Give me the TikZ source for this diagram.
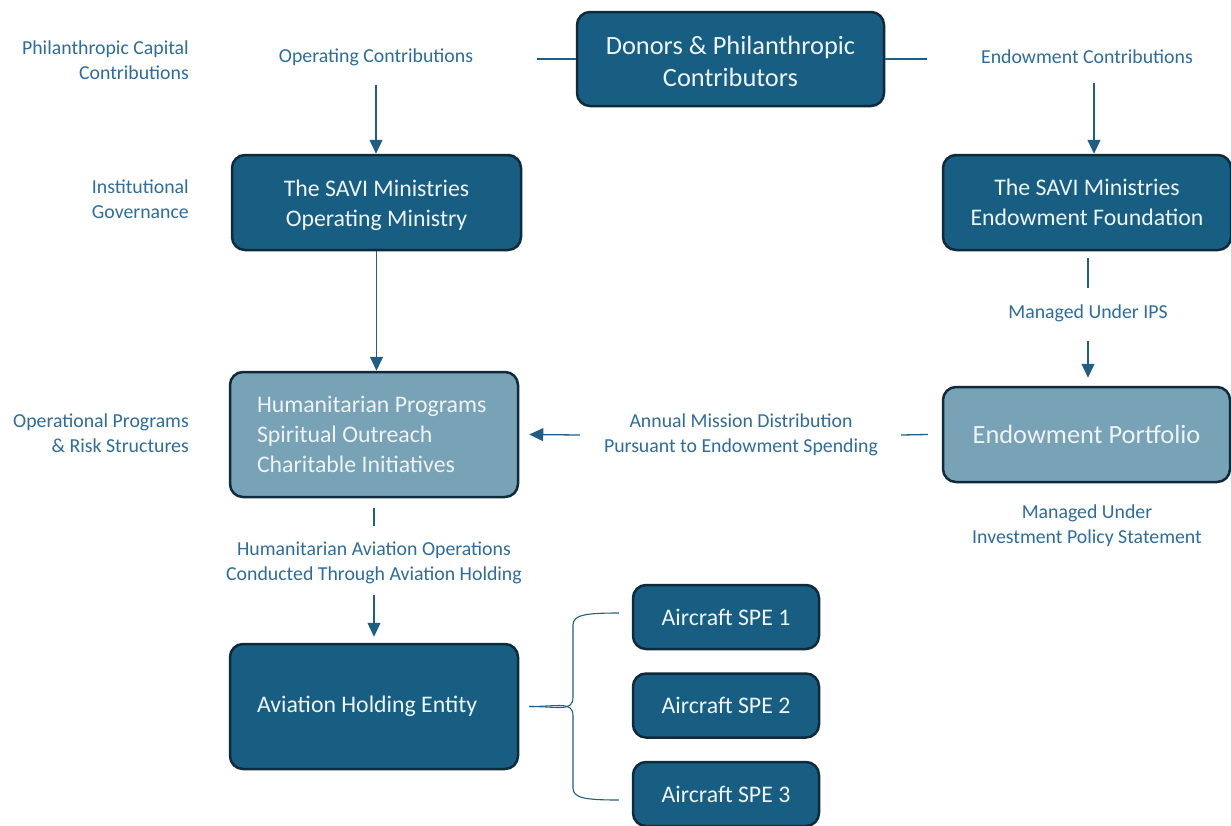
\documentclass[tikz,border=0pt]{standalone}
\usepackage{fontspec}
\setmainfont{Carlito}
\usetikzlibrary{arrows.meta}
\definecolor{darkfill}{HTML}{175E82}
\definecolor{lightfill}{HTML}{78A2B5}
\definecolor{edgecol}{HTML}{0F2B3B}
\definecolor{labcol}{HTML}{2D6C9C}
\definecolor{conncol}{HTML}{1F5F85}
\definecolor{boxtext}{HTML}{EEF3F6}
\begin{document}
\begin{tikzpicture}[x=1pt,y=-1pt,
 darkbox/.style={draw=edgecol, line width=2.5pt, fill=darkfill, rounded corners=13pt, text=boxtext, align=center, inner sep=0pt},
 lightbox/.style={darkbox, fill=lightfill},
 lbl/.style={text=labcol, font=\fontsize{19.8}{25}\selectfont, align=center, inner sep=0pt},
 side/.style={lbl, align=flush right, anchor=east},
 conn/.style={draw=conncol, line width=1.3pt},
 arr/.style={conn, -{Triangle[width=13pt,length=14pt]}},
 bigtxt/.style={font=\fontsize{26.4}{32}\selectfont},
 midtxt/.style={font=\fontsize{23.8}{30}\selectfont}]
\useasboundingbox (0,0) rectangle (1231,825);

\node[darkbox,bigtxt,minimum width=307pt,minimum height=94pt] (donors) at (730.5,59) {\rule{0pt}{23pt}Donors \& Philanthropic\\Contributors};
\node[lbl] (opc) at (376,57) {Operating Contributions};
\node[lbl] (enc) at (1087,57) {Endowment Contributions};
\node[darkbox,midtxt,minimum width=289pt,minimum height=95pt] (opmin) at (376.5,202.5) {\rule{0pt}{23pt}The SAVI Ministries\\Operating Ministry};
\node[darkbox,midtxt,minimum width=288pt,minimum height=95pt] (endf) at (1087,202.5) {The SAVI Ministries\\Endowment Foundation};
\node[lbl] (ips) at (1088,313) {Managed Under IPS};
\node[lightbox,bigtxt,minimum width=287pt,minimum height=95pt] (port) at (1086.5,434.5) {Endowment Portfolio};
\node[lbl] (ipsst) at (1087,526) {Managed Under\\Investment Policy Statement};
\node[lightbox,midtxt,minimum width=288pt,minimum height=125pt,align=flush left,text width=234pt] (hum) at (374,434.5) {Humanitarian Programs\\Spiritual Outreach\\Charitable Initiatives};
\node[lbl] (amd) at (741,435) {Annual Mission Distribution\\Pursuant to Endowment Spending};
\node[lbl] (hao) at (374,563) {Humanitarian Aviation Operations\\Conducted Through Aviation Holding};
\node[darkbox,midtxt,minimum width=288pt,minimum height=125pt,align=flush left,text width=234pt] (avh) at (374,706.5) {Aviation Holding Entity};
\node[darkbox,midtxt,minimum width=186pt,minimum height=64pt] (spe1) at (726,617) {Aircraft SPE 1};
\node[darkbox,midtxt,minimum width=186pt,minimum height=64pt] (spe2) at (726,705.5) {Aircraft SPE 2};
\node[darkbox,midtxt,minimum width=186pt,minimum height=64pt] (spe3) at (726,794) {Aircraft SPE 3};

\node[side] (s1) at (189,60) {Philanthropic Capital\\Contributions};
\node[side] (s2) at (189,199.5) {Institutional\\Governance};
\node[side] (s3) at (189,433) {Operational Programs\\\& Risk Structures};

% connectors
\draw[conn] (donors.west) -- ++(-39,0);
\draw[conn] (donors.east) -- ++(42,0);
\draw[arr, shorten <=19pt] (opc.south) -- (opc.south |- opmin.north);
\draw[arr] ([xshift=7pt,yshift=-19pt]enc.south) -- ([xshift=7pt]endf.north);
\draw[arr] (opmin.south) -- (opmin.south |- hum.north);
\draw[conn, shorten >=16pt] ([xshift=1pt,yshift=-7pt]endf.south) -- ([xshift=1pt]endf.south |- ips.north);
\draw[arr, shorten <=19pt, shorten >=8pt] (ips.south) -- (ips.south |- port.north);
\draw[conn] ([xshift=-14pt]port.west) -- ([xshift=23pt]amd.east);
\draw[arr] ([xshift=-24pt]amd.west) -- ([xshift=10pt]hum.east);
\draw[conn, shorten >=16pt] ([yshift=-10pt]hum.south) -- (hum.south |- hao.north);
\draw[arr, shorten <=11pt, shorten >=6pt] (hao.south) -- (hao.south |- avh.north);

% brace
\coordinate (bm) at ([xshift=10pt]avh.east);
\coordinate (b1) at ([xshift=-13pt,yshift=4pt]spe1.west);
\coordinate (b3) at ([xshift=-13pt,yshift=-6pt]spe3.west);
\draw[conn, line width=1.1pt] (bm) .. controls ++(30,0) and (573,712) .. (573,697) -- (573,625)
  .. controls (573,615) and (585,613) .. (b1);
\draw[conn, line width=1.1pt] (bm) .. controls ++(30,0) and (573,701) .. (573,716) -- (573,788)
  .. controls (573,798) and (585,800) .. (b3);
\end{tikzpicture}
\end{document}
